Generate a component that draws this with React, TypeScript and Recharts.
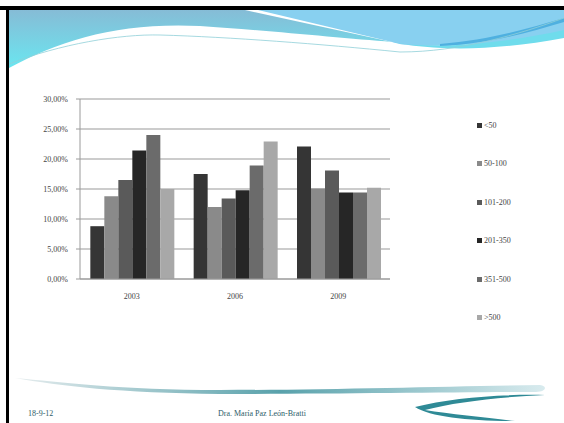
import React from 'react';
import { BarChart, Bar, XAxis, YAxis, CartesianGrid, Legend } from 'recharts';

const years = ['2003', '2006', '2009'];
const seriesNames = ['<50', '50-100', '101-200', '201-350', '351-500', '>500'];
const seriesColors = ['#353535', '#8a8a8a', '#5a5a5a', '#262626', '#6b6b6b', '#a8a8a8'];
const lt50 = [8.8, 17.5, 22.1];
const s50to100 = [13.8, 12.0, 15.1];
const s101to200 = [16.5, 13.4, 18.1];
const s201to350 = [21.4, 14.8, 14.4];
const s351to500 = [24.0, 18.9, 14.4];
const gt500 = [15.0, 22.9, 15.2];
const yTicks = [0, 5, 10, 15, 20, 25, 30];

const seriesValues = [lt50, s50to100, s101to200, s201to350, s351to500, gt500];

const data = years.map((year, i) => {
  const row: Record<string, string | number> = { year };
  seriesNames.forEach((name, s) => {
    row[name] = seriesValues[s][i];
  });
  return row;
});

const pct = (v: number) => v.toFixed(2).replace('.', ',') + '%';

const LegendBox = () => (
  <div style={{ width: 80 }}>
    {seriesNames.map((name, i) => (
      <div key={name} style={{ display: 'flex', alignItems: 'center', height: 38.5, fontSize: 8, color: '#444', fontFamily: 'Liberation Serif' }}>
        <div style={{ width: 5, height: 5, background: seriesColors[i], marginRight: 2 }} />
        <span>{name}</span>
      </div>
    ))}
  </div>
);

const Slide = () => (
  <svg width={564} height={423} style={{ position: 'absolute', left: 0, top: 0 }}>
    <defs>
      <linearGradient id="hdr" x1="0" y1="0" x2="0" y2="1">
        <stop offset="0%" stopColor="#86bcd6" />
        <stop offset="100%" stopColor="#6ae6f0" />
      </linearGradient>
      <linearGradient id="swoosh" x1="0" y1="0" x2="1" y2="0">
        <stop offset="0%" stopColor="#e0e8ea" />
        <stop offset="50%" stopColor="#2f8a96" />
        <stop offset="100%" stopColor="#cfe6ea" />
      </linearGradient>
    </defs>
    <rect x={0} y={0} width={564} height={423} fill="#ffffff" />
    <path d="M9,10 L245,10 L392,42 C340,38 260,30 200,26 C120,22 60,40 9,68 Z" fill="url(#hdr)" />
    <path d="M258,10 L564,10 L564,34 C520,42 470,46 420,46 C405,45 398,44 392,42 Z" fill="#88d0f0" />
    <path d="M392,42 C430,50 500,44 564,30 L564,38 C500,50 440,52 392,42 Z" fill="#6fdcec" />
    <path d="M440,44 C490,40 530,28 564,18 L564,22 C530,32 490,44 440,46 Z" fill="#4fb0e0" />
    <path d="M9,64 C60,44 120,34 160,35 C230,37 320,44 400,52 C460,52 520,34 564,18" fill="none" stroke="#8fcfd8" strokeWidth={0.8} />
    <rect x={0} y={6} width={564} height={4} fill="#000" />
    <rect x={6} y={6} width={3} height={417} fill="#000" />
    <path d="M15,378 C60,382 120,390 220,390 C330,390 450,386 540,385 C548,386 546,392 536,392 C460,392 330,394 220,394 C120,393 60,386 15,378 Z" fill="url(#swoosh)" opacity={0.8} />
    <path d="M415,407 C450,398 500,394 545,395 C500,397 455,402 425,410 C450,414 490,418 515,421 C470,421 430,417 415,407 Z" fill="#2f8a96" />
    <text x={28} y={416} fontSize={8} fill="#2e5c68" fontFamily="Liberation Serif">18-9-12</text>
    <text x={218} y={416} fontSize={8} fill="#2e5c68" fontFamily="Liberation Serif">Dra. María Paz León-Bratti</text>
  </svg>
);

export default function App() {
  return (
    <div style={{ position: 'absolute', left: 0, top: 0, width: 564, height: 423 }}>
      <Slide />
      <div style={{ position: 'absolute', left: 0, top: 0 }}>
        <BarChart
          width={564}
          height={423}
          data={data}
          margin={{ top: 99, right: 94, bottom: 114, left: 0 }}
          barCategoryGap="10%"
          barGap={0}
        >
          <CartesianGrid vertical={false} stroke="#9a9a9a" strokeWidth={1.2} />
          <XAxis
            dataKey="year"
            height={30}
            tickLine={false}
            axisLine={{ stroke: '#9a9a9a' }}
            tick={{ fontSize: 8, fill: '#444', fontFamily: 'Liberation Serif' }}
            tickMargin={8}
          />
          <YAxis
            width={80}
            domain={[0, 30]}
            ticks={yTicks}
            tickFormatter={pct}
            tickSize={4}
            tickLine={{ stroke: '#9a9a9a' }}
            axisLine={{ stroke: '#9a9a9a' }}
            tick={{ fontSize: 8, fill: '#444', fontFamily: 'Liberation Serif' }}
            tickMargin={8}
          />
          <Legend
            layout="vertical"
            align="right"
            verticalAlign="top"
            content={<LegendBox />}
            wrapperStyle={{ left: 477, top: 106, width: 80, right: 'auto' }}
          />
          {seriesNames.map((name, i) => (
            <Bar key={name} dataKey={name} fill={seriesColors[i]} isAnimationActive={false} />
          ))}
        </BarChart>
      </div>
    </div>
  );
}
